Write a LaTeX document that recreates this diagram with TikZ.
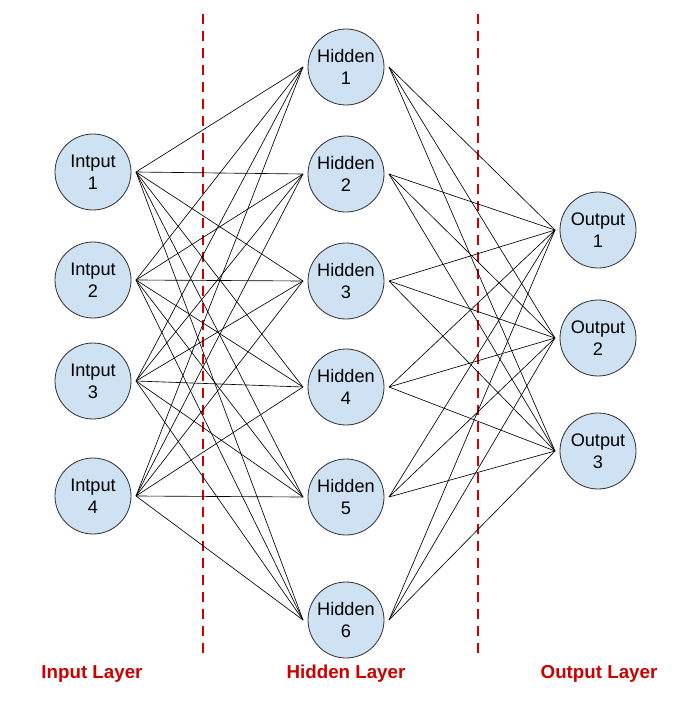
\documentclass[tikz,border=0pt]{standalone}
\usepackage{fontspec}
\setmainfont{Liberation Sans}
\usepackage{tikz}
\usetikzlibrary{positioning}
\definecolor{neuronfill}{HTML}{CFE2F3}
\definecolor{neuronline}{HTML}{333333}
\definecolor{layerred}{HTML}{CC0000}
\tikzset{
  neuron/.style={circle, draw=neuronline, line width=.7pt, fill=neuronfill, minimum size=2.28cm, inner sep=0pt, outer sep=.15cm, align=center, font=\fontsize{15.5}{18.5}\selectfont},
  wire/.style={line width=.55pt, draw=black},
  sep/.style={draw=layerred, line width=1.8pt, dash pattern=on 8.5pt off 6pt},
  lyr/.style={font=\bfseries\fontsize{16}{18}\selectfont, text=layerred},
}
\begin{document}
\begin{tikzpicture}[x=0.03cm, y=-0.03cm]
  \useasboundingbox (0,0) rectangle (693,702);
  % separators
  \draw[sep] (203,14) -- (203,655);
  \draw[sep] (478,14) -- (478,655);
  % input layer
  \foreach \i/\y in {1/172, 2/280, 3/381, 4/496}
    \node[neuron] (in\i) at (93,\y) {Intput\\\i};
  % hidden layer
  \foreach \j/\y in {1/67, 2/174, 3/281, 4/387, 5/497, 6/620}
    \node[neuron] (hid\j) at (346,\y) {Hidden\\\j};
  % output layer
  \foreach \k/\y in {1/230, 2/338, 3/451}
    \node[neuron] (out\k) at (598,\y) {Output\\\k};
  % connections
  \foreach \i in {1,...,4}
    \foreach \j in {1,...,6}
      \draw[wire] (in\i.east) -- (hid\j.west);
  \foreach \j in {1,...,6}
    \foreach \k in {1,...,3}
      \draw[wire] (hid\j.east) -- (out\k.west);
  % layer names
  \node[lyr] (lin) at (92,674) {Input Layer};
  \node[lyr] (lhid) at (346,674) {Hidden Layer};
  \node[lyr] (lout) at (599,674) {Output Layer};
\end{tikzpicture}
\end{document}
